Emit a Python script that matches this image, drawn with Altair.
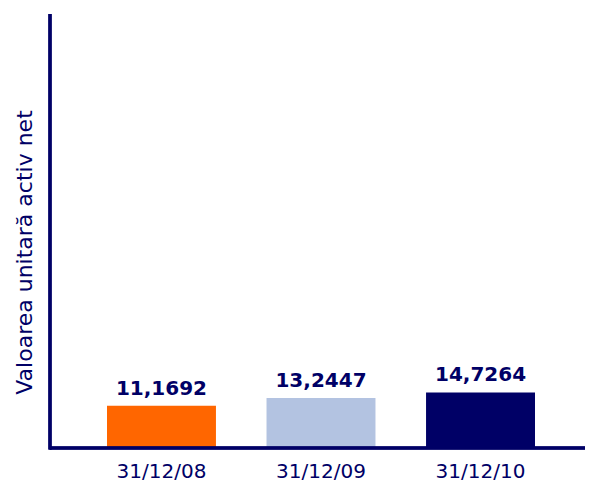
import altair as alt
import pandas as pd

dates = ["31/12/08", "31/12/09", "31/12/10"]
values = [11.1692, 13.2447, 14.7264]
labels = ["11,1692", "13,2447", "14,7264"]
colors = ["#FF6600", "#B3C3E1", "#000066"]

df = pd.DataFrame({"date": dates, "value": values, "label": labels, "color": colors})

W, H = 535, 434
NAVY = "#000066"
FONT = "DejaVu Sans"

x = alt.X("date:N", sort=dates,
          scale=alt.Scale(range=[57, 485], paddingInner=0.317, paddingOuter=0),
          axis=alt.Axis(title=None, domain=False, ticks=False, labelAngle=0,
                        labelFont=FONT, labelFontSize=20, labelColor=NAVY,
                        labelPadding=13))
y = alt.Y("value:Q", scale=alt.Scale(domain=[0, 115], nice=False, zero=True),
          axis=alt.Axis(title="Valoarea unitară activ net", domain=False, ticks=False,
                        labels=False, grid=False, titleFont=FONT, titleFontSize=22,
                        titleFontWeight="normal", titleColor=NAVY, titleX=-26, titleY=238,
                        titleAngle=-90, titleAlign="center", titleBaseline="middle"))

bars = alt.Chart(df).mark_bar().encode(
    x=x, y=y, color=alt.Color("color:N", scale=None))

text = alt.Chart(df).mark_text(font=FONT, fontSize=20, fontWeight="bold", color=NAVY,
                               baseline="alphabetic", dy=-11).encode(
    x=alt.X("date:N", sort=dates), y="value:Q", text="label:N")

xaxis = alt.Chart(df).mark_rule(color=NAVY, strokeWidth=3).encode(
    x=alt.value(0), x2=alt.value(W), y=alt.value(H))
yaxis = alt.Chart(df).mark_rule(color=NAVY, strokeWidth=3).encode(
    x=alt.value(0), y=alt.value(0), y2=alt.value(H + 1.5))

chart = alt.layer(bars, text, xaxis, yaxis).properties(
    width=W, height=H, autosize=alt.AutoSizeParams(type="none"),
    padding={"left": 42, "top": 6, "right": 3, "bottom": 34},
    background="white"
).configure_view(stroke=None, strokeWidth=0)

chart.save("out.html", embed_options={"renderer": "svg", "actions": False})
